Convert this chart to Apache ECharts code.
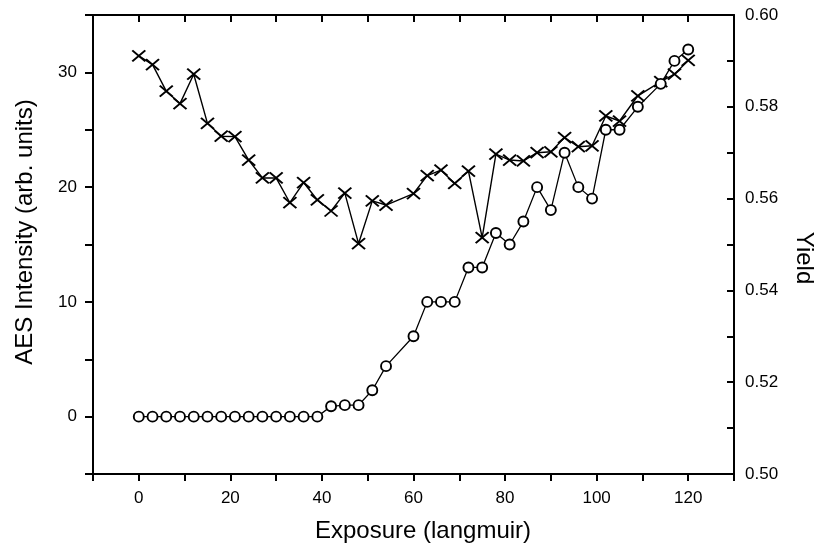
<!DOCTYPE html>
<html>
<head>
<meta charset="utf-8">
<script src="https://cdn.jsdelivr.net/npm/echarts@6/dist/echarts.min.js"></script>
<style>
  html, body { margin: 0; padding: 0; background: #fff; }
  #chart { width: 815px; height: 550px; }
</style>
</head>
<body>
<div id="chart"></div>
<script>
// Exposure in langmuir for each measurement
const exposure = [0, 3, 6, 9, 12, 15, 18, 21, 24, 27, 30, 33, 36, 39,
  42, 45, 48, 51, 54, 60, 63, 66, 69, 72, 75, 78, 81, 84, 87, 90,
  93, 96, 99, 102, 105, 109, 114, 117, 120];

// AES intensity (arb. units), left axis, open circles
const aesIntensity = [0, 0, 0, 0, 0, 0, 0, 0, 0, 0, 0, 0, 0, 0,
  0.9, 1.0, 1.0, 2.3, 4.4, 7.0, 10.0, 10.0, 10.0, 13.0, 13.0, 16.0, 15.0, 17.0, 20.0, 18.0,
  23.0, 20.0, 19.0, 25.0, 25.0, 27.0, 29.0, 31.0, 32.0];

// Yield, right axis, crosses
const yieldValues = [0.5911, 0.5892, 0.5834, 0.5807, 0.5871, 0.5764, 0.5736, 0.5735, 0.5684,
  0.5645, 0.5645, 0.5591, 0.5635, 0.5597, 0.5573, 0.5612, 0.5502, 0.5595, 0.5586,
  0.5611, 0.5650, 0.5662, 0.5633, 0.5660, 0.5515, 0.5697, 0.5684, 0.5682, 0.5700,
  0.5702, 0.5733, 0.5713, 0.5715, 0.5780, 0.5769, 0.5824, 0.5855, 0.5871, 0.5901];

const xLabels = [0, 20, 40, 60, 80, 100, 120];
const leftLabels = [0, 10, 20, 30];
const rightLabels = [0.50, 0.52, 0.54, 0.56, 0.58, 0.60];

const FONT = '"Liberation Sans", Arial, Helvetica, sans-serif';
const axisLineStyle = { color: '#000', width: 2 };
const tickStyle = { color: '#000', width: 2 };
const labelStyle = { color: '#000', fontFamily: FONT, fontSize: 17 };

const near = (list, v, eps) => list.some(t => Math.abs(t - v) < eps);

const chart = echarts.init(document.getElementById('chart'), null, { renderer: 'canvas' });

chart.setOption({
  animation: false,
  backgroundColor: '#fff',
  grid: { left: 93, right: 81, top: 15, bottom: 76, containLabel: false },
  xAxis: [
    {
      type: 'value', position: 'bottom', min: -10, max: 130, interval: 10,
      axisLine: { show: true, onZero: false, lineStyle: axisLineStyle },
      axisTick: { show: true, inside: false, length: 7, lineStyle: tickStyle },
      axisLabel: Object.assign({
        margin: 16,
        formatter: v => near(xLabels, v, 1e-6) ? String(v) : ''
      }, labelStyle),
      splitLine: { show: false }
    },
    {
      type: 'value', position: 'top', min: -10, max: 130, interval: 10,
      axisLine: { show: true, onZero: false, lineStyle: axisLineStyle },
      axisTick: { show: true, inside: true, length: 7, lineStyle: tickStyle },
      axisLabel: { show: false },
      splitLine: { show: false }
    }
  ],
  yAxis: [
    {
      type: 'value', position: 'left', min: -5, max: 35, interval: 5,
      axisLine: { show: true, onZero: false, lineStyle: axisLineStyle },
      axisTick: { show: true, inside: false, length: 8, lineStyle: tickStyle },
      axisLabel: Object.assign({
        margin: 16,
        formatter: v => near(leftLabels, v, 1e-6) ? String(v) : ''
      }, labelStyle),
      splitLine: { show: false }
    },
    {
      type: 'value', position: 'right', min: 0.5, max: 0.6, interval: 0.01,
      axisLine: { show: true, onZero: false, lineStyle: axisLineStyle },
      axisTick: { show: true, inside: true, length: 7, lineStyle: tickStyle },
      axisLabel: Object.assign({
        margin: 11,
        formatter: v => near(rightLabels, v, 1e-6) ? v.toFixed(2) : ''
      }, labelStyle),
      splitLine: { show: false }
    }
  ],
  graphic: [
    {
      type: 'text', x: 423, y: 531,
      style: { text: 'Exposure (langmuir)', fill: '#000', font: '24px ' + FONT,
        textAlign: 'center', textVerticalAlign: 'middle' }
    },
    {
      type: 'text', x: 25, y: 232, rotation: Math.PI / 2,
      style: { text: 'AES Intensity (arb. units)', fill: '#000', font: '24px ' + FONT,
        textAlign: 'center', textVerticalAlign: 'middle' }
    },
    {
      type: 'text', x: 804, y: 258, rotation: -Math.PI / 2,
      style: { text: 'Yield', fill: '#000', font: '24px ' + FONT,
        textAlign: 'center', textVerticalAlign: 'middle' }
    }
  ],
  series: [
    {
      name: 'Yield',
      type: 'line',
      xAxisIndex: 0,
      yAxisIndex: 1,
      data: exposure.map((x, i) => [x, yieldValues[i]]),
      symbol: 'path://M0,0L10,10M10,0L0,10',
      symbolSize: [13, 11],
      showAllSymbol: true,
      lineStyle: { color: '#000', width: 1.4 },
      itemStyle: { color: '#000', borderColor: '#000', borderWidth: 1.9 },
      z: 2
    },
    {
      name: 'AES Intensity',
      type: 'line',
      xAxisIndex: 0,
      yAxisIndex: 0,
      data: exposure.map((x, i) => [x, aesIntensity[i]]),
      symbol: 'circle',
      symbolSize: 10,
      showAllSymbol: true,
      lineStyle: { color: '#000', width: 1.3 },
      itemStyle: { color: '#fff', borderColor: '#000', borderWidth: 1.9 },
      z: 3
    }
  ]
});
</script>
</body>
</html>
